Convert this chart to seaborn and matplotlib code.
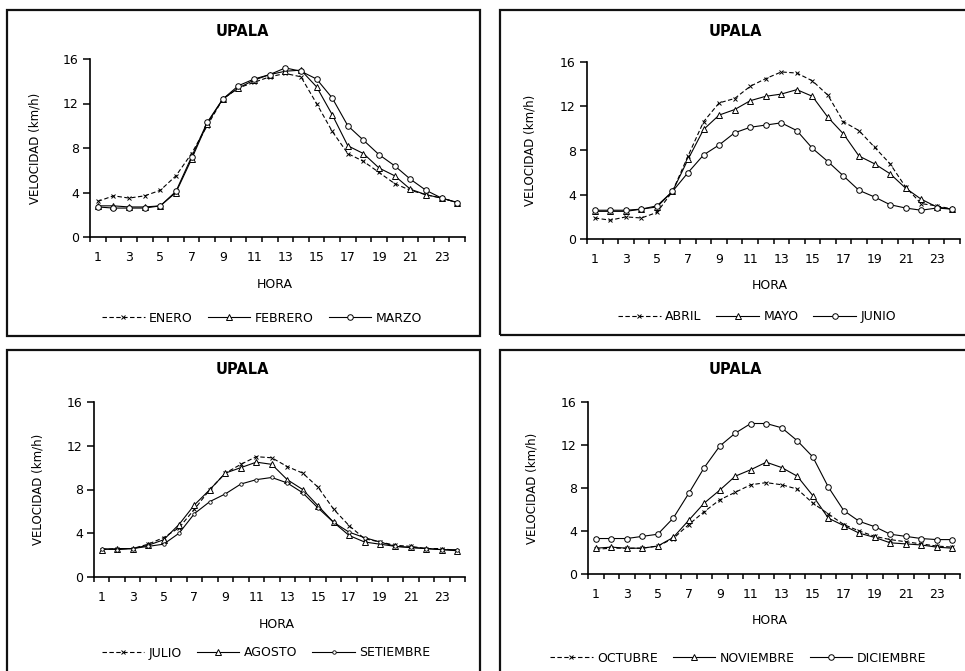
import matplotlib
matplotlib.use("Agg")
import matplotlib.pyplot as plt
from matplotlib.patches import Rectangle
import numpy as np
import pandas as pd
import seaborn as sns

plt.rcParams['font.family'] = ['DejaVu Sans']

hours = list(range(1, 25))
xtick_labels = [str(h) for h in range(1, 24, 2)]
yticks = [0, 4, 8, 12, 16]

enero = [3.2, 3.7, 3.5, 3.7, 4.2, 5.5, 7.5, 10.0, 12.4, 13.4, 13.9, 14.4,
         14.7, 14.4, 12.0, 9.5, 7.5, 6.8, 5.8, 4.8, 4.2, 3.8, 3.5, 3.1]
febrero = [2.8, 2.8, 2.7, 2.7, 2.8, 4.0, 7.0, 10.2, 12.4, 13.4, 14.1, 14.6,
           14.9, 15.0, 13.5, 11.0, 8.2, 7.5, 6.2, 5.5, 4.3, 3.8, 3.5, 3.1]
marzo = [2.7, 2.6, 2.6, 2.6, 2.8, 4.1, 7.2, 10.3, 12.4, 13.6, 14.2, 14.6,
         15.2, 14.9, 14.2, 12.5, 10.0, 8.7, 7.4, 6.4, 5.2, 4.2, 3.5, 3.1]

abril = [1.9, 1.7, 2.0, 1.9, 2.4, 4.3, 7.5, 10.6, 12.3, 12.7, 13.8, 14.5,
         15.1, 15.0, 14.3, 13.0, 10.6, 9.8, 8.3, 6.8, 4.7, 3.2, 3.0, 2.7]
mayo = [2.5, 2.5, 2.5, 2.7, 2.9, 4.3, 7.2, 9.9, 11.2, 11.7, 12.5, 12.9,
        13.1, 13.5, 12.9, 11.0, 9.5, 7.5, 6.8, 5.9, 4.6, 3.6, 2.9, 2.7]
junio = [2.6, 2.6, 2.6, 2.7, 3.0, 4.3, 6.0, 7.6, 8.5, 9.6, 10.1, 10.3,
         10.5, 9.8, 8.2, 7.0, 5.7, 4.4, 3.8, 3.1, 2.8, 2.6, 2.8, 2.7]

julio = [2.5, 2.6, 2.6, 3.0, 3.6, 4.5, 6.2, 8.0, 9.5, 10.3, 11.0, 10.9,
         10.1, 9.5, 8.2, 6.2, 4.7, 3.5, 3.2, 2.9, 2.8, 2.6, 2.6, 2.4]
agosto = [2.5, 2.6, 2.6, 2.9, 3.4, 4.8, 6.6, 8.0, 9.5, 10.0, 10.5, 10.3,
          8.9, 8.0, 6.5, 5.0, 3.8, 3.2, 3.0, 2.8, 2.7, 2.6, 2.5, 2.4]
setiembre = [2.6, 2.5, 2.6, 2.8, 3.0, 4.0, 5.8, 6.9, 7.6, 8.5, 8.9, 9.1,
             8.6, 7.7, 6.3, 5.0, 4.1, 3.6, 3.2, 2.8, 2.7, 2.6, 2.5, 2.5]

octubre = [2.3, 2.4, 2.4, 2.4, 2.6, 3.3, 4.6, 5.8, 6.9, 7.6, 8.3, 8.5,
           8.3, 7.9, 6.6, 5.6, 4.6, 4.0, 3.5, 3.2, 3.0, 2.8, 2.6, 2.5]
noviembre = [2.4, 2.5, 2.4, 2.4, 2.6, 3.4, 5.0, 6.6, 7.8, 9.1, 9.7, 10.4,
             9.9, 9.1, 7.3, 5.2, 4.5, 3.8, 3.4, 2.9, 2.8, 2.7, 2.5, 2.4]
diciembre = [3.3, 3.3, 3.3, 3.5, 3.7, 5.2, 7.5, 9.9, 11.9, 13.1, 14.0, 14.0,
             13.6, 12.4, 10.9, 8.1, 5.9, 4.9, 4.4, 3.7, 3.5, 3.3, 3.2, 3.2]

W, H = 965, 671
fig = plt.figure(figsize=(W / 100, H / 100), dpi=100)
fig.patch.set_facecolor('white')

dash_style = dict(linestyle=(0, (4, 2.2)), marker='x', markersize=3.0,
                  markeredgewidth=0.7, markeredgecolor='black')
tri_style = dict(linestyle='-', marker='^', markersize=4.3, markerfacecolor='white',
                 markeredgewidth=0.7, markeredgecolor='black')
circ_style = dict(linestyle='-', marker='o', markersize=4.0, markerfacecolor='white',
                  markeredgewidth=0.7, markeredgecolor='black')
dot_style = dict(linestyle='-', marker='o', markersize=2.5, markerfacecolor='white',
                 markeredgewidth=0.6, markeredgecolor='black')

panels = [
    dict(box=(7, 10, 480, 336), ax=(90, 59, 465, 237), title=(242, 32),
         xlabel=(275, 285), ylabel_x=35, legend=(262, 318),
         series=[('ENERO', enero, dash_style), ('FEBRERO', febrero, tri_style),
                 ('MARZO', marzo, circ_style)]),
    dict(box=(500, 10, 970, 335), ax=(587, 62, 960, 239), title=(735, 32),
         xlabel=(770, 286), ylabel_x=530, legend=(757, 317),
         series=[('ABRIL', abril, dash_style), ('MAYO', mayo, tri_style),
                 ('JUNIO', junio, circ_style)]),
    dict(box=(7, 350, 480, 680), ax=(94, 402, 465, 577), title=(242, 370),
         xlabel=(277, 625), ylabel_x=38, legend=(266, 653),
         series=[('JULIO', julio, dash_style), ('AGOSTO', agosto, tri_style),
                 ('SETIEMBRE', setiembre, dot_style)]),
    dict(box=(500, 350, 970, 680), ax=(588, 402, 960, 574), title=(735, 370),
         xlabel=(770, 621), ylabel_x=532, legend=(738, 658),
         series=[('OCTUBRE', octubre, dash_style), ('NOVIEMBRE', noviembre, tri_style),
                 ('DICIEMBRE', diciembre, circ_style)]),
]

for p in panels:
    bl, bt, br, bb = p['box']
    fig.patches.append(Rectangle((bl / W, 1 - bb / H), (br - bl) / W, (bb - bt) / H,
                                 transform=fig.transFigure, fill=False,
                                 edgecolor='#111111', linewidth=1.6, zorder=0))
    l, t, r, b = p['ax']
    ax = fig.add_axes([l / W, 1 - b / H, (r - l) / W, (b - t) / H])
    ax.set_facecolor('none')
    for name, vals, st in p['series']:
        df = pd.DataFrame({'HORA': hours, 'VELOCIDAD': vals})
        sns.lineplot(data=df, x='HORA', y='VELOCIDAD', ax=ax, color='black',
                     linewidth=0.8, label=name, **st)
    ax.set_xlim(0.5, 24.5)
    ax.set_ylim(0, 16)
    ax.set_xticks(range(1, 24, 2))
    ax.set_xticklabels(xtick_labels)
    ax.set_xticks(np.arange(0.5, 25, 1), minor=True)
    ax.set_yticks(yticks)
    ax.tick_params(axis='x', which='major', length=0, pad=10, labelsize=9)
    ax.tick_params(axis='x', which='minor', length=3.5, width=1.1, direction='out')
    ax.tick_params(axis='y', which='major', length=5, width=1.1, direction='out',
                   pad=3, labelsize=9)
    for s in ['top', 'right']:
        ax.spines[s].set_visible(False)
    for s in ['left', 'bottom']:
        ax.spines[s].set_linewidth(1.2)
    ax.set_xlabel('HORA', fontsize=9)
    ax.xaxis.label.set_va('center')
    ax.xaxis.set_label_coords(0.5 + (p['xlabel'][0] - (l + r) / 2) / (r - l),
                              (b - p['xlabel'][1]) / (b - t))
    ax.set_ylabel('VELOCIDAD (km/h)', fontsize=8.5)
    ax.yaxis.label.set_va('center')
    ax.yaxis.set_label_coords((p['ylabel_x'] - l) / (r - l), 0.5)
    tx, ty = p['title']
    ax.text((tx - l) / (r - l), (b - ty) / (b - t), 'UPALA', transform=ax.transAxes,
            ha='center', va='center', fontsize=10.5, fontweight='bold')
    handles, labels = ax.get_legend_handles_labels()
    lx, ly = p['legend']
    ax.legend(handles, labels, loc='center', bbox_to_anchor=(lx / W, 1 - ly / H),
              bbox_transform=fig.transFigure, ncol=3, frameon=False, fontsize=9,
              handlelength=3.4, handletextpad=0.35, columnspacing=1.2,
              borderpad=0, borderaxespad=0)

fig.savefig('out.png', dpi=100, facecolor='white')
